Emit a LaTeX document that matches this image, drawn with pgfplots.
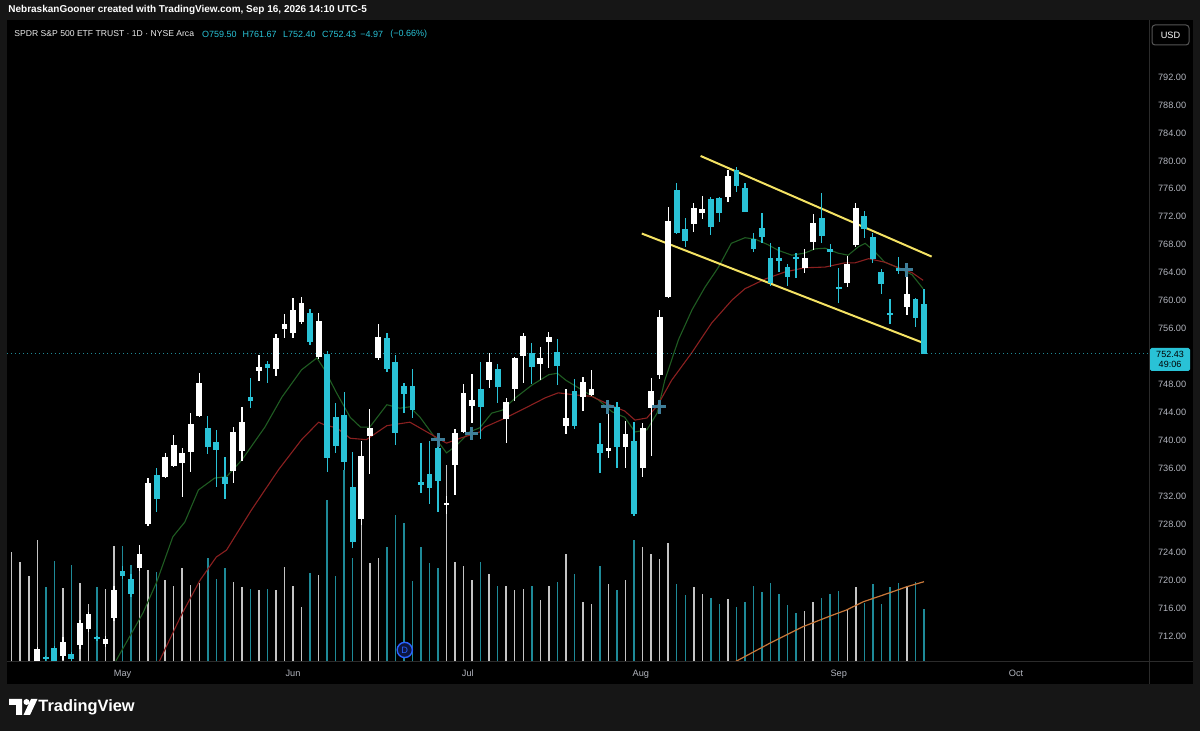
\documentclass[border=0pt]{standalone}
\usepackage{pgfplots}
\pgfplotsset{compat=1.18}
\usepackage{pgfplotstable}
\usepackage{fontspec}
\setmainfont{Liberation Sans}

\definecolor{outer}{HTML}{161616}
\definecolor{pane}{HTML}{000000}
\definecolor{sep}{HTML}{2B2B2B}
\definecolor{upc}{HTML}{FFFFFF}
\definecolor{dnc}{HTML}{29C2D6}
\definecolor{volup}{HTML}{C4C4C4}
\definecolor{voldn}{HTML}{1E8A98}
\definecolor{maG}{HTML}{1F5C22}
\definecolor{maR}{HTML}{8A2020}
\definecolor{chan}{HTML}{F4E263}
\definecolor{vma}{HTML}{C8783A}
\definecolor{axtxt}{HTML}{B2B5BE}
\definecolor{crossc}{HTML}{3F7F9A}
\definecolor{lastln}{HTML}{1F8A96}
\definecolor{dblue}{HTML}{2962FF}
\definecolor{dnavy}{HTML}{0D1640}

% i open high low close volume(px)
\pgfplotstableread{
i o h l c v
0 705.0 706.4 704.6 706.0 108.7
1 706.0 707.2 705.5 706.8 98.7
2 706.3 707.6 705.8 707.2 85.3
3 708.0 710.5 707.0 710.1 121
6 709.1 711.8 708.6 711.2 72.7
8 710.7 714.3 710.2 713.9 77.7
9 713.0 715.5 712.6 715.1 57
11 710.9 712.0 710.5 711.6 71.7
12 714.6 719.2 714.2 718.6 115
15 721.7 725.0 721.3 723.7 116
16 728.0 734.6 727.7 733.9 91
18 734.8 738.2 734.6 737.6 81
19 736.3 740.8 736.2 739.3 75.3
20 736.8 738.9 731.9 738.2 92.7
21 738.3 743.9 735.5 742.3 76
22 743.5 749.6 743.3 748.2 77.7
26 735.6 741.9 733.9 741.2 78.7
27 738.5 744.8 737.0 742.6 74.3
29 749.9 752.2 748.5 750.5 71
31 750.2 755.2 749.2 754.6 71
32 755.9 758.1 754.6 756.7 94.3
33 755.4 760.4 754.6 758.7 75.3
34 756.9 760.5 756.7 759.7 54.3
36 751.9 758.2 751.6 757.1 86
41 728.7 739.9 727.9 737.8 141
42 740.6 744.5 735.2 741.8 97.7
43 751.8 756.7 751.5 754.8 103.3
51 730.8 732.0 729.5 731.0 196
52 736.5 741.6 732.2 741.1 98.7
53 741.2 748.1 741.1 746.8 95.3
54 744.9 749.5 742.5 745.8 81
56 748.6 752.5 747.5 751.2 86.7
58 743.1 746.1 739.6 745.5 75.3
59 747.3 751.9 745.6 751.8 71
60 752.1 755.4 748.2 754.9 72
62 750.9 753.4 748.6 751.8 61
63 754.1 755.5 750.4 754.8 75.3
65 742.1 747.3 740.9 743.2 107
67 746.2 749.1 744.2 748.4 59.3
68 746.5 750.1 746.3 747.3 57
70 738.5 743.8 737.5 738.9 77
72 739.0 742.8 736.0 740.9 81
74 736.0 742.5 734.8 741.8 114.3
75 744.6 748.9 737.8 747.1 106.7
76 749.4 758.7 748.8 757.7 102
77 760.5 773.4 760.4 771.4 118.3
80 771.0 774.0 769.8 773.3 74.3
81 772.5 775.0 771.7 773.1 67
84 774.8 778.7 774.1 777.8 61.7
93 764.7 767.4 763.9 766.1 50
94 768.4 772.4 767.2 771.1 59.3
98 762.5 766.4 761.9 765.2 51
99 768.0 774.0 767.7 773.3 74.3
105 759.1 763.7 757.9 760.9 75.3
}\upbars

\pgfplotstableread{
i o h l c v
4 709.0 709.2 708.0 708.8 74.3
5 710.3 710.5 707.5 708.0 100.3
7 709.4 709.7 708.0 708.7 96
10 711.8 712.0 711.3 711.6 73.7
13 721.3 722.0 720.2 720.6 115
14 720.2 720.8 717.6 718.0 96
17 735.0 736.0 729.7 731.6 88.7
23 741.8 743.5 738.0 739.0 102.7
24 739.8 741.5 733.3 738.6 81.7
25 734.8 737.6 731.6 733.8 92.7
28 746.2 748.9 744.6 745.6 72
30 750.9 751.4 748.2 750.4 72
35 758.2 758.8 753.6 754.1 87.7
37 752.4 752.8 735.5 737.5 161
38 743.3 745.3 738.2 739.2 85
39 743.6 746.9 735.8 736.9 191
40 733.3 738.3 724.6 725.5 102.7
44 754.6 755.4 749.8 750.2 114.3
45 751.2 752.2 739.3 741.1 146
46 747.8 748.2 743.9 746.6 138
47 747.8 750.2 743.2 744.3 80
48 734.0 739.6 732.5 733.6 114.3
49 735.2 739.9 730.9 733.2 98.3
50 738.9 740.6 729.7 734.2 92.7
55 747.3 751.2 740.2 744.8 98.7
57 750.2 750.9 745.3 747.6 75.3
61 752.5 753.9 748.1 750.5 75.3
64 752.6 754.5 747.9 750.6 79.3
66 747.1 748.8 741.6 742.1 86.7
69 739.5 742.5 735.3 738.2 95
71 744.8 745.5 736.0 739.0 71
73 739.9 742.6 729.2 729.5 121
78 775.8 776.8 769.5 769.7 77
79 770.2 771.8 767.7 768.5 66
82 774.5 774.8 769.4 770.5 62.7
83 774.7 774.8 771.2 772.5 57
85 778.7 779.1 775.5 776.4 53.7
86 776.1 776.8 772.7 772.7 59.3
87 768.8 769.7 767.0 767.4 75
88 770.4 772.5 768.2 769.1 68.7
89 766.1 768.2 762.1 762.5 77.7
90 766.1 767.7 764.1 765.7 67
91 764.8 765.2 762.1 763.4 56
92 766.2 766.8 763.2 766.0 47.7
95 771.8 775.4 768.2 769.2 62.7
96 767.4 768.1 764.8 767.0 66.7
97 761.9 764.7 759.7 761.8 70.3
100 772.1 772.8 769.0 770.2 58.3
101 769.1 769.7 765.4 766.0 77
102 764.1 764.5 760.9 762.4 57
103 758.2 760.2 756.7 757.9 73.7
104 764.7 766.2 763.8 764.2 77.7
106 760.2 760.4 756.2 757.5 78.7
107 759.50 761.67 752.40 752.43 52
}\dnbars

\pgfplotsset{
  chartpos/.style={at={(3.5pt,-330.5pt)}, anchor=south west, scale only axis,
    width=571pt, height=320.5pt, xmin=-0.551, xmax=133.39, clip=true},
}

\begin{document}
\begin{tikzpicture}
\begin{scope}[x=0.5pt,y=-0.5pt]
\fill[outer] (0,0) rectangle (1200,731);
\fill[pane] (7,20) rectangle (1193,684);
\end{scope}

% volume pane overlay
\begin{axis}[chartpos, ymin=0, ymax=641, hide axis]
\addplot[ycomb, volup, line width=0.75pt] table[x=i,y=v]{\upbars};
\addplot[ycomb, voldn, line width=0.75pt] table[x=i,y=v]{\dnbars};
\addplot[vma, line width=0.6pt] coordinates {(84.8,-1) (88.9,17.7) (92.8,34.3) (96.0,45) (97.9,51) (99.9,59.3) (103.0,68.3) (105.0,74.3) (107.0,79.3)};
\end{axis}

% price pane
\begin{axis}[chartpos, ymin=708.42, ymax=800.16,
  axis line style={draw=none}, major tick length=0pt,
  ytick={712,716,...,792}, ytick pos=right, yticklabel pos=right,
  xtick={13.0,33.0,53.5,73.8,97.0,117.8}, xticklabels={May,Jun,Jul,Aug,Sep,Oct},
  xtick pos=bottom,
  ticklabel style={text=axtxt, font=\fontsize{4.6}{5}\selectfont},
  yticklabel style={xshift=1.0pt, /pgf/number format/.cd, fixed, fixed zerofill, precision=2, assume math mode=true},
  xticklabel style={anchor=north, text height=3.4pt, text depth=0.9pt, yshift=-1.0pt},
]
% moving averages
\addplot[maG, line width=0.55pt] coordinates {(12.0,707.8) (12.3,708.6) (15.4,715.3) (17.0,719.7) (18.9,726.2) (20.3,728.3) (21.9,732.9) (23.8,734.6) (25.2,734.8) (27.0,737.2) (29.7,741.9) (31.7,746.2) (34.0,750.1) (35.8,751.8) (36.7,750.1) (38.1,746.8) (39.7,743.3) (40.9,741.9) (42.0,741.9) (44.0,745.1) (45.5,744.6) (46.7,744.8) (47.9,743.3) (49.4,740.8) (51.0,738.2) (52.2,739.3) (53.7,741.2) (54.9,741.8) (56.3,743.9) (57.5,744.3) (59.1,746.1) (61.0,747.9) (63.0,749.4) (64.0,749.6) (65.0,748.6) (66.9,747.2) (68.8,745.8) (70.4,744.1) (71.9,743.3) (73.1,741.2) (74.5,741.5) (75.7,743.9) (76.6,748.6) (78.2,754.4) (79.8,758.7) (81.3,761.9) (82.9,764.8) (84.4,768.2) (86.0,769.0) (87.2,768.8) (88.7,768.0) (89.9,767.2) (91.5,766.5) (93.0,766.8) (94.2,767.4) (95.4,767.5) (96.9,766.8) (98.1,766.5) (99.3,767.7) (100.1,768.2) (101.3,766.9) (102.4,765.5) (104.0,764.7) (105.6,763.7) (106.9,761.7)};
\addplot[maR, line width=0.55pt] coordinates {(17.1,707.8) (17.4,708.6) (19.9,715.0) (22.1,720.0) (24.0,723.3) (25.2,724.3) (28.1,730.0) (31.3,735.8) (34.0,740.1) (36.0,742.6) (36.7,742.2) (38.1,741.8) (39.7,740.3) (41.6,740.1) (44.0,742.1) (46.7,742.6) (48.7,741.2) (51.0,739.6) (52.6,740.3) (54.9,741.2) (55.5,741.9) (57.9,743.2) (60.2,744.6) (62.6,746.1) (64.1,746.8) (66.1,746.5) (68.0,746.3) (70.1,745.1) (71.9,744.2) (73.1,742.9) (74.5,743.2) (75.8,745.1) (77.4,748.6) (79.8,752.6) (82.1,756.8) (84.5,760.1) (86.0,761.7) (88.4,763.1) (90.7,764.1) (93.0,764.7) (95.4,764.8) (97.7,765.4) (98.9,765.4) (100.5,766.0) (102.4,765.5) (104.0,764.7) (105.6,764.0) (106.9,762.9)};
% channel
\addplot[chan, line width=1pt] coordinates {(73.9,769.6) (106.8,754.0)};
\addplot[chan, line width=1pt] coordinates {(80.8,780.7) (107.9,766.3)};
% last price line
\addplot[lastln, line width=0.5pt, dash pattern=on 0.6pt off 1.4pt] coordinates {(-1,752.43) (134,752.43)};
% candles: wicks
\addplot[draw=none, error bars/.cd, y dir=both, y explicit, error mark=none,
  error bar style={line width=0.65pt, draw=upc}]
  table[x=i, y expr={(\thisrow{h}+\thisrow{l})/2}, y error expr={(\thisrow{h}-\thisrow{l})/2}]{\upbars};
\addplot[draw=none, error bars/.cd, y dir=both, y explicit, error mark=none,
  error bar style={line width=0.65pt, draw=dnc}]
  table[x=i, y expr={(\thisrow{h}+\thisrow{l})/2}, y error expr={(\thisrow{h}-\thisrow{l})/2}]{\dnbars};
% candles: bodies
\addplot[draw=none, error bars/.cd, y dir=both, y explicit, error mark=none,
  error bar style={line width=2.9pt, draw=upc}]
  table[x=i, y expr={(\thisrow{o}+\thisrow{c})/2}, y error expr={max(abs(\thisrow{c}-\thisrow{o})/2,0.08)}]{\upbars};
\addplot[draw=none, error bars/.cd, y dir=both, y explicit, error mark=none,
  error bar style={line width=2.9pt, draw=dnc}]
  table[x=i, y expr={(\thisrow{o}+\thisrow{c})/2}, y error expr={max(abs(\thisrow{c}-\thisrow{o})/2,0.08)}]{\dnbars};
% MA cross markers
\addplot[only marks, mark=+, mark size=3.4pt, mark options={line width=1.5pt, draw=crossc}] coordinates {(50.0,740.05) (53.95,741.0) (69.9,744.8) (75.95,744.8) (104.9,764.4)};
% dividend marker
\node[circle, draw=dblue, fill=dnavy, line width=0.7pt, minimum size=7.6pt, inner sep=0pt, text=dblue, font=\fontsize{4.6}{5}\selectfont] at (axis cs:46.1,710.0) {D};
\end{axis}

\begin{scope}[x=0.5pt,y=-0.5pt]
\draw[sep, line width=0.5pt] (1149,20) -- (1149,684);
\draw[sep, line width=0.5pt] (7,661.5) -- (1193,661.5);
% top strip
\node[anchor=west, inner sep=0pt, text=white, font=\bfseries\fontsize{5.0}{5.5}\selectfont] at (8,9.5) {NebraskanGooner created with TradingView.com, Sep 16, 2026 14:10 UTC-5};
% legend
\node[anchor=west, inner sep=0pt, text=white!85!gray, font=\fontsize{4.3}{5}\selectfont] at (14,34) {SPDR S\&P 500 ETF TRUST · 1D · NYSE Arca};
\begin{scope}[every node/.style={anchor=west, inner sep=0pt, text=dnc, font=\fontsize{4.5}{5}\selectfont}]
\node at (201.7,34) {O759.50};
\node at (242.3,34) {H761.67};
\node at (282.7,34) {L752.40};
\node at (321.7,34) {C752.43};
\node at (360,34) {−4.97};
\node at (390,34) {(−0.66\%)};
\end{scope}
% USD button
\draw[sep!80!white, fill=black, rounded corners=1.5pt, line width=0.5pt] (1152,25) rectangle (1189,45);
\node[text=white, font=\fontsize{4.6}{5}\selectfont] at (1170.5,35) {USD};
% last price box
\fill[dnc, rounded corners=0.8pt] (1150,348) rectangle (1190,371);
\node[text=black, font=\fontsize{4.5}{5}\selectfont, inner sep=0pt, text height=3.2pt, text depth=0pt] at (1170,354.3) {752.43};
\node[text=black, font=\fontsize{4.5}{5}\selectfont, inner sep=0pt, text height=3.2pt, text depth=0pt] at (1170,364.3) {49:06};
% footer logo
\fill[white] (9,699) -- (22,699) -- (22,715) -- (16,715) -- (16,705) -- (9,705) -- cycle;
\fill[white] (26.5,702) circle (3);
\fill[white] (31,699) -- (37.5,699) -- (30,715) -- (23.5,715) -- cycle;
\node[anchor=west, inner sep=0pt, text=white, font=\bfseries\fontsize{8.2}{9}\selectfont] at (38,707) {TradingView};
\end{scope}
\end{tikzpicture}
\end{document}
